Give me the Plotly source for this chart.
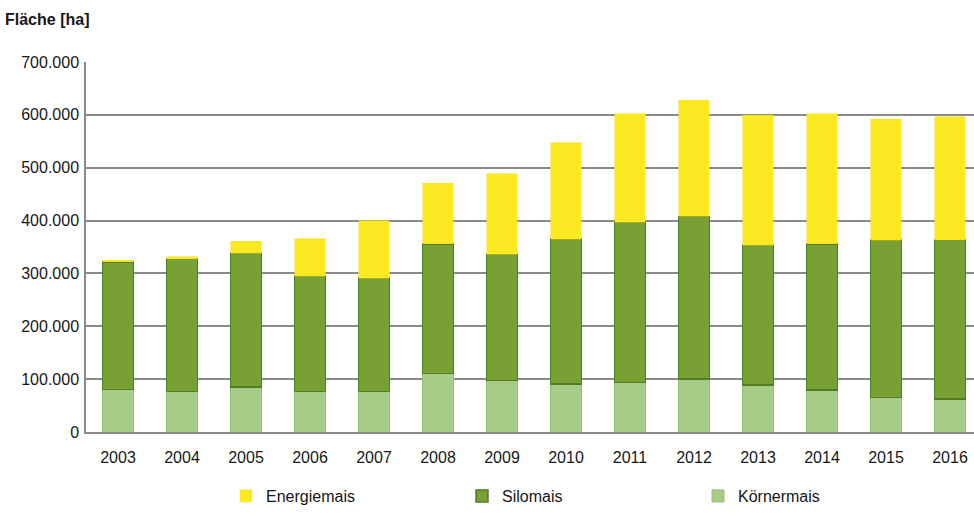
import plotly.graph_objects as go

# Maisanbauflächen in Hektar, nach Nutzungsart
years = ["2003", "2004", "2005", "2006", "2007", "2008", "2009",
         "2010", "2011", "2012", "2013", "2014", "2015", "2016"]
koernermais = [80000, 77000, 85000, 77000, 77000, 111000, 97000,
               91000, 94000, 100000, 89000, 79000, 65000, 62000]
silomais = [242000, 251000, 253000, 218000, 214000, 245000, 239000,
            274000, 303000, 308000, 264000, 277000, 298000, 302000]
energiemais = [3000, 4000, 23000, 71000, 109000, 115000, 153000,
               182000, 205000, 220000, 246000, 246000, 229000, 232000]

y_ticks = [0, 100000, 200000, 300000, 400000, 500000, 600000, 700000]

FONT = "Liberation Sans, Arial, sans-serif"
TEXT = "#161616"
GRID = "#8a8a8a"

fig = go.Figure()
fig.add_trace(go.Bar(
    x=years, y=koernermais, name="Körnermais",
    marker=dict(color="#A8CB87", line=dict(color="#98BD76", width=1)),
))
fig.add_trace(go.Bar(
    x=years, y=silomais, name="Silomais",
    marker=dict(color="#78A034", line=dict(color="#527D22", width=1.5)),
))
fig.add_trace(go.Bar(
    x=years, y=energiemais, name="Energiemais",
    marker=dict(color="#FBE922", line=dict(color="#F2DF1A", width=0.5)),
))

fig.update_layout(
    width=974, height=513,
    margin=dict(l=86, r=0, t=62, b=80),
    barmode="stack",
    bargap=0.52,
    paper_bgcolor="white",
    plot_bgcolor="white",
    separators=",.",
    font=dict(family=FONT, size=16, color=TEXT),
    title=dict(
        text="<b>Fläche [ha]</b>",
        font=dict(family=FONT, size=16, color=TEXT),
        x=5 / 974, xanchor="left", xref="container",
        y=1 - 19 / 513, yanchor="middle", yref="container",
    ),
    legend=dict(
        orientation="h",
        traceorder="reversed",
        x=(226 - 86) / 888, xanchor="left",
        y=(433 - 497) / 371, yanchor="middle",
        entrywidth=191, entrywidthmode="pixels",
        font=dict(family=FONT, size=16, color=TEXT),
        bgcolor="rgba(0,0,0,0)",
    ),
    showlegend=True,
)

fig.update_xaxes(
    type="category",
    range=[-0.5, 13.375],
    showgrid=False,
    showline=True, linecolor=GRID, linewidth=1.5,
    ticks="", ticklabelstandoff=10,
    tickfont=dict(family=FONT, size=16, color=TEXT),
)
fig.update_yaxes(
    range=[0, 700000],
    tickvals=y_ticks,
    tickformat=",d",
    showgrid=True, gridcolor=GRID, gridwidth=1.5,
    zeroline=False,
    showline=True, linecolor=GRID, linewidth=1.5,
    ticks="", ticklabelstandoff=2,
    tickfont=dict(family=FONT, size=16, color=TEXT),
)

fig.write_html("out.html")
